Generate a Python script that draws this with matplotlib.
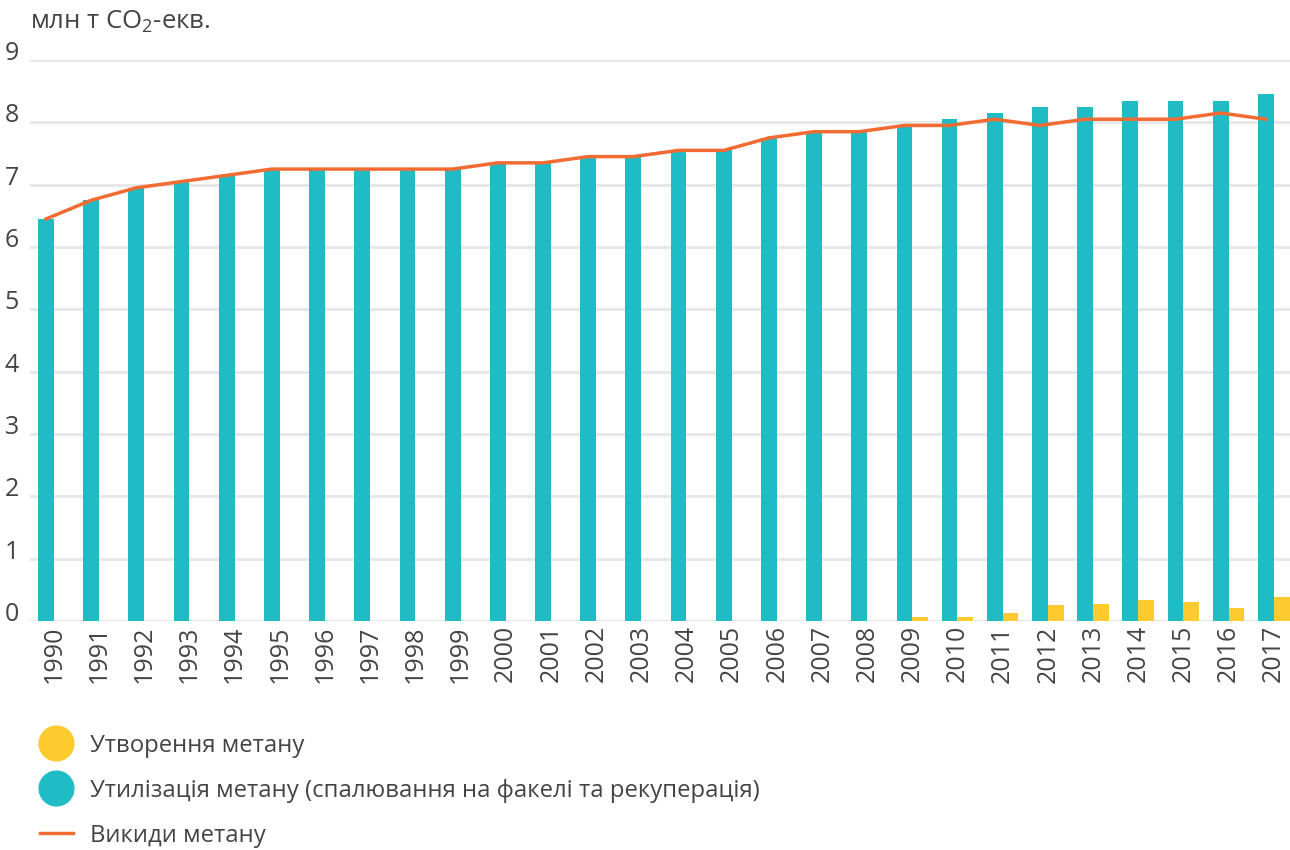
import numpy as np
import matplotlib.pyplot as plt
from matplotlib.lines import Line2D

plt.rcParams['font.family'] = ['Open Sans', 'DejaVu Sans']
plt.rcParams['mathtext.fontset'] = 'custom'
plt.rcParams['mathtext.rm'] = 'Open Sans'
plt.rcParams['mathtext.it'] = 'Open Sans'

years = [str(y) for y in range(1990, 2018)]
# teal bars
utilization = [6.45, 6.75, 6.95, 7.05, 7.15, 7.25, 7.25, 7.25, 7.25, 7.25,
               7.35, 7.35, 7.45, 7.45, 7.55, 7.55, 7.75, 7.85, 7.85, 7.95,
               8.05, 8.15, 8.25, 8.25, 8.35, 8.35, 8.35, 8.45]
# yellow bars
generation = [0, 0, 0, 0, 0, 0, 0, 0, 0, 0,
              0, 0, 0, 0, 0, 0, 0, 0, 0, 0.06,
              0.06, 0.13, 0.26, 0.27, 0.34, 0.30, 0.21, 0.38]
# orange line
emissions = [6.45, 6.75, 6.95, 7.05, 7.15, 7.25, 7.25, 7.25, 7.25, 7.25,
             7.35, 7.35, 7.45, 7.45, 7.55, 7.55, 7.75, 7.85, 7.85, 7.95,
             7.95, 8.05, 7.95, 8.05, 8.05, 8.05, 8.15, 8.05]

teal = '#20bcc6'
yellow = '#fdcb2e'
orange = '#f26b32'
txt = '#444444'

fig = plt.figure(figsize=(12.9, 8.5), dpi=100)
ax = fig.add_axes([30/1290, 1 - 621/850, 1 - 30/1290, 561/850])

x = np.arange(len(years))
w = 0.35
ax.bar(x - w/2, utilization, w, color=teal, zorder=2)
ax.bar(x + w/2, generation, w, color=yellow, zorder=2)
ax.plot(x - w/2, emissions, color=orange, lw=2.5, zorder=3)

ax.set_ylim(0, 9)
ax.set_xlim(-0.53, len(years) - 1 + 0.36)
ax.set_yticks(range(10))
ax.set_xticks(x)
ax.set_xticklabels(years, rotation=90)
ax.grid(axis='y', color='#e6e6e6', lw=2, zorder=0)
ax.set_axisbelow(True)
for s in ax.spines.values():
    s.set_visible(False)
ax.tick_params(length=0, labelsize=18, labelcolor=txt)
ax.tick_params(axis='y', pad=8)
ax.tick_params(axis='x', pad=3)
for lab in ax.get_yticklabels():
    lab.set_va('baseline')

fig.text(30/1290, 1 - 22/850, 'млн т CO$_2$-екв.', fontsize=18.5, color=txt,
         va='center', ha='left')

handles = [
    Line2D([], [], ls='none', marker='o', ms=25, color=yellow),
    Line2D([], [], ls='none', marker='o', ms=25, color=teal),
    Line2D([], [], color=orange, lw=2.5),
]
labels = ['Утворення метану',
          'Утилізація метану (спалювання на факелі та рекуперація)',
          'Викиди метану']
fig.legend(handles, labels, loc='upper left', bbox_to_anchor=(30/1290, 1 - 724/850),
           frameon=False, fontsize=17.2, labelcolor=txt, handlelength=1.4,
           handletextpad=0.7, labelspacing=0.88, borderaxespad=0)

fig.savefig('out.png', dpi=100)
